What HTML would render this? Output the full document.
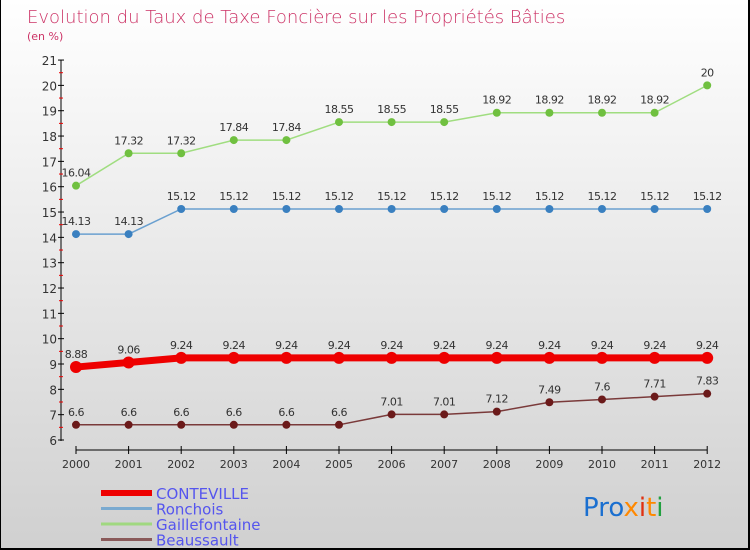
<!DOCTYPE html>
<html><head><meta charset="utf-8"><style>
body{margin:0}
#c{width:750px;height:550px;position:relative;box-sizing:border-box;border:1px solid #000;border-width:0 2px 2px 1px;background:linear-gradient(#fff,#d0d0d0);font-family:"DejaVu Sans","Liberation Sans",sans-serif;overflow:hidden}
</style></head><body>
<div id="c">
<svg width="750" height="550" style="position:absolute;left:0;top:0">
<text x="26" y="23" font-size="18" fill="#cc3366" font-family="DejaVu Sans, sans-serif" style="font-weight:200">Evolution du Taux de Taxe Foncière sur les Propriétés Bâties</text>
<text x="26" y="40" font-size="11" fill="#cc3366">(en %)</text>
<g id="g"></g>
<text x="582" y="516" font-size="26" font-family="DejaVu Sans, sans-serif"><tspan fill="#1a6fd0">Pro</tspan><tspan fill="#ff8800">x</tspan><tspan fill="#e03010">i</tspan><tspan fill="#ff8800">t</tspan><tspan fill="#22a040">i</tspan></text>
</svg>
</div>
<script>
const years=[2000,2001,2002,2003,2004,2005,2006,2007,2008,2009,2010,2011,2012];
const conteville=[8.88,9.06,9.24,9.24,9.24,9.24,9.24,9.24,9.24,9.24,9.24,9.24,9.24];
const ronchois=[14.13,14.13,15.12,15.12,15.12,15.12,15.12,15.12,15.12,15.12,15.12,15.12,15.12];
const gaillefontaine=[16.04,17.32,17.32,17.84,17.84,18.55,18.55,18.55,18.92,18.92,18.92,18.92,20];
const beaussault=[6.6,6.6,6.6,6.6,6.6,6.6,7.01,7.01,7.12,7.49,7.6,7.71,7.83];
const yTicks=[6,7,8,9,10,11,12,13,14,15,16,17,18,19,20,21];
const NS="http://www.w3.org/2000/svg",g=document.getElementById('g');
const X=i=>75+i*52.6, Y=v=>440-(v-6)*25.33;
function el(t,a,p){const e=document.createElementNS(NS,t);for(const k in a)e.setAttribute(k,a[k]);(p||g).appendChild(e);return e;}
let ax=el('line',{x1:60,y1:60,x2:60,y2:441,stroke:'#000'});


yTicks.forEach(v=>{
 el('line',{x1:57,x2:63,y1:Y(v),y2:Y(v),stroke:'#000'});
 if(v<21)el('line',{x1:58,x2:62,y1:Y(v+0.5),y2:Y(v+0.5),stroke:'#e00'});
 let t=el('text',{x:56,y:Y(v)+5,'text-anchor':'end','font-size':12,fill:'#333'});t.textContent=v;
 
 
});
let xa=el('line',{x1:75,y1:450,x2:X(12),y2:450,stroke:'#000'});


years.forEach((y,i)=>{
 el('line',{x1:X(i),x2:X(i),y1:446,y2:454,stroke:'#000'});
 let t=el('text',{x:X(i),y:468,'text-anchor':'middle','font-size':11,fill:'#333'});t.textContent=y;
 
 
});
const series=[[beaussault,'#7a3a3a','#6b1a1a',1.5,4,'beaussault'],[ronchois,'#6aa0d0','#3a80c0',1.5,4,'ronchois'],[gaillefontaine,'#a0dd80','#70c040',1.5,4,'gaillefontaine'],[conteville,'#ee0000','#ee0000',7,6,'conteville']];
series.forEach(([d,lc,pc,w,r,n])=>{
 let p=el('polyline',{points:d.map((v,i)=>X(i)+','+Y(v)).join(' '),fill:'none',stroke:lc,'stroke-width':w});
 
 
 d.forEach((v,i)=>{
  let c=el('circle',{cx:X(i),cy:Y(v),r:r,fill:pc});
  
  
  let t=el('text',{x:X(i),y:Y(v)-9,'text-anchor':'middle','font-size':11,fill:'#333','letter-spacing':'-0.5'});t.textContent=v;
  
  
 });
});
const leg=[['CONTEVILLE','#ee0000',6],['Ronchois','#7aaad0',3],['Gaillefontaine','#a0d880',3],['Beaussault','#8a5a5a',3]];
leg.forEach(([n,c,w],i)=>{
 const y=493+i*15.5;
 el('line',{x1:100,x2:151,y1:y,y2:y,stroke:c,'stroke-width':w});
 let t=el('text',{x:155,y:y+6,'font-size':15,fill:'#5555ee'});t.textContent=n;
 
 
});
</script>
</body></html>
